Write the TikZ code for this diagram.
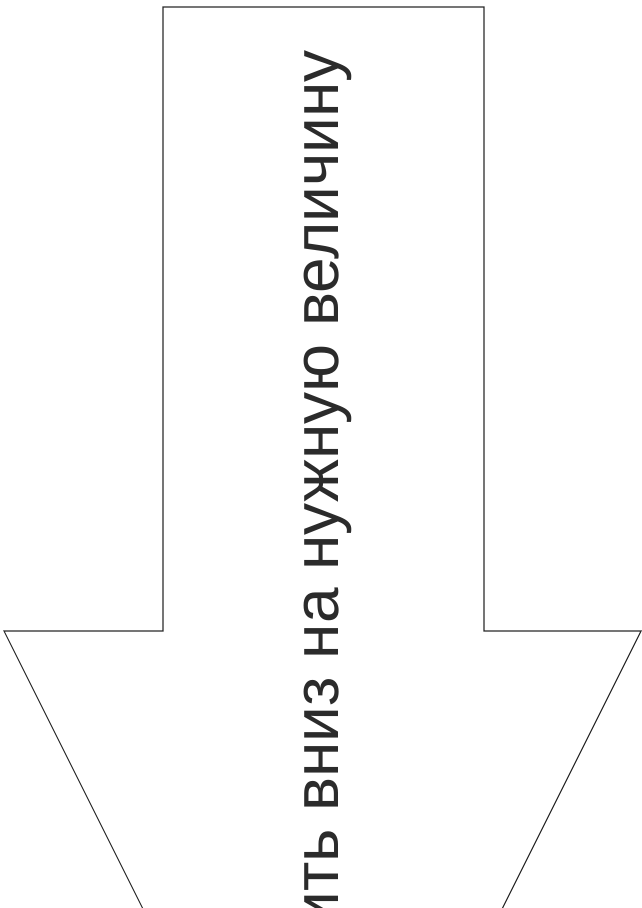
\documentclass[tikz,border=0pt]{standalone}
\usepackage{fontspec}
\setmainfont{Liberation Sans}
\usetikzlibrary{calc}
\definecolor{lineGray}{HTML}{2b2b2b}

\begin{document}
\begin{tikzpicture}[x=1pt, y=-1pt, inner sep=0.0 pt]
    \pgfmathsetmacro{\shaftLeft}{163}
    \pgfmathsetmacro{\shaftRight}{484}
    \pgfmathsetmacro{\shoulderY}{631}

    \useasboundingbox (0,0) rectangle (642,908);
    \clip (0,0) rectangle (642,908);

    \coordinate (tail_left) at (\shaftLeft,7);
    \coordinate (tail_right) at (\shaftRight,7);
    \coordinate (shoulder_right) at (\shaftRight,\shoulderY);
    \coordinate (wing_right) at (641,\shoulderY);
    \coordinate (tip) at (322.5,1268);
    \coordinate (wing_left) at (4,\shoulderY);
    \coordinate (shoulder_left) at (\shaftLeft,\shoulderY);

    % arrow outline
    \draw [line width=1.1pt, lineGray, line join=miter] (tail_left) -- (tail_right) -- (shoulder_right) -- (wing_right) -- (tip) -- (wing_left) -- (shoulder_left) -- cycle;

    \node (label) [rotate=90, anchor=base east, text=lineGray, font=\fontsize{64}{70}\selectfont] at (338,50) {ить вниз на нужную величину};
\end{tikzpicture}
\end{document}
